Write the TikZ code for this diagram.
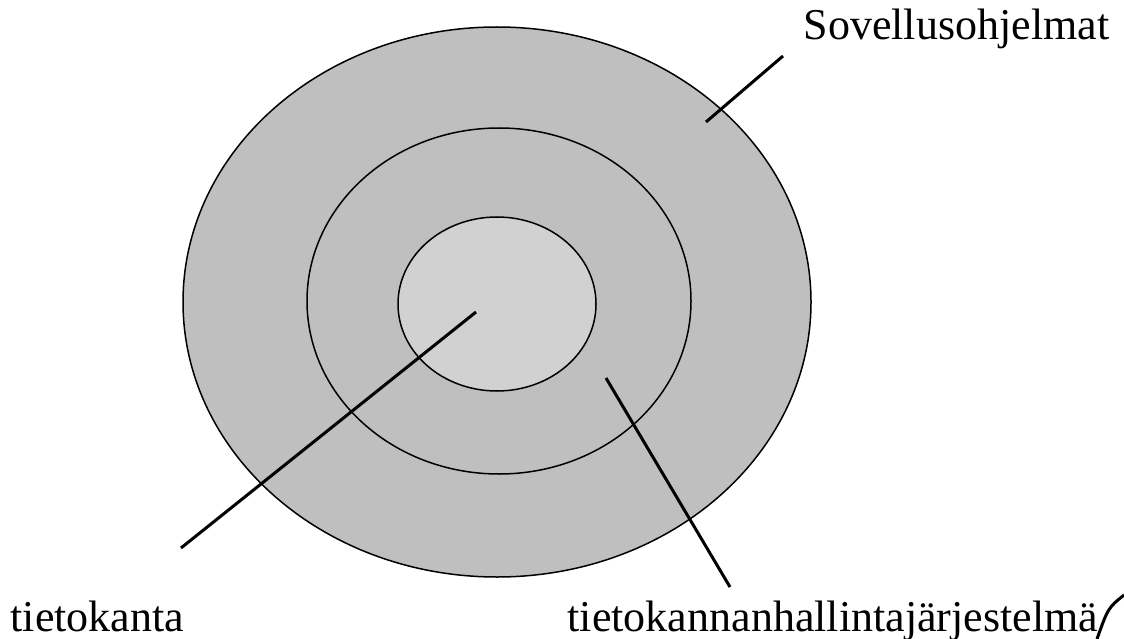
\documentclass[tikz,border=0pt]{standalone}
\usepackage{fontspec}
\setmainfont{Liberation Serif}
\usetikzlibrary{positioning}

\begin{document}
\begin{tikzpicture}[x=1pt,y=-1pt,line width=1.5pt,
  lbl/.style={inner sep=0pt,anchor=base west,font=\fontsize{44}{50}\selectfont},
  leader/.style={line width=3pt}]
  \useasboundingbox (0,0) rectangle (1124,639);
  % kerrokset
  \draw[fill=black!25] (497,302) ellipse [x radius=314pt,y radius=275pt];
  \draw[fill=black!25] (499,301) ellipse [x radius=192pt,y radius=173pt];
  \draw[fill=black!18] (497,304) ellipse [x radius=99pt,y radius=87pt];
  % tekstit
  \node[lbl] (sov) at (803,40) {Sovellusohjelmat};
  \node[lbl] (kanta) at (10,631) {tietokanta};
  \node[lbl] (tkhj) at (567,631) {tietokannanhallintajärjestelmä};
  % viivat
  \coordinate (sovA) at (783,56);
  \coordinate (sovB) at (706,122);
  \coordinate (kantaA) at (181,548);
  \coordinate (kantaB) at (476,312);
  \coordinate (tkhjA) at (730,587);
  \coordinate (tkhjB) at (606,378);
  \draw[leader] (sovA) -- (sovB);
  \draw[leader] (kantaA) -- (kantaB);
  \draw[leader] (tkhjA) -- (tkhjB);
  % kaari oikeassa alakulmassa
  \draw[leader] (1124,595) .. controls (1108,608) .. (1097,639);
\end{tikzpicture}
\end{document}
